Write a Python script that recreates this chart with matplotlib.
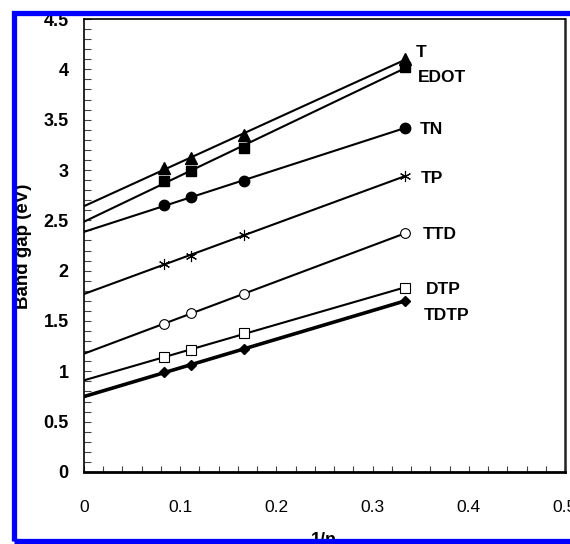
import numpy as np
import matplotlib
matplotlib.use("Agg")
import matplotlib.pyplot as plt
from matplotlib.ticker import MultipleLocator
from matplotlib.patches import Rectangle

plt.rcParams['font.family'] = ['Liberation Sans', 'DejaVu Sans']

# 1/n for n = 12, 9, 6, 3
inv_n = [1 / 12, 1 / 9, 1 / 6, 1 / 3]

# band gaps (eV)
gap_T = [3.02, 3.12, 3.35, 4.10]
gap_EDOT = [2.89, 2.99, 3.22, 4.02]
gap_TN = [2.65, 2.73, 2.89, 3.42]
gap_TP = [2.07, 2.15, 2.35, 2.94]
gap_TTD = [1.47, 1.58, 1.77, 2.37]
gap_DTP = [1.14, 1.21, 1.385, 1.83]
gap_TDTP = [0.99, 1.065, 1.22, 1.70]

names = ['T', 'EDOT', 'TN', 'TP', 'TTD', 'DTP', 'TDTP']
series = [gap_T, gap_EDOT, gap_TN, gap_TP, gap_TTD, gap_DTP, gap_TDTP]

# label positions (data coords)
label_x = [0.345, 0.347, 0.349, 0.350, 0.352, 0.355, 0.353]
label_y = [4.17, 3.92, 3.40, 2.92, 2.36, 1.81, 1.55]

# marker style per series
styles = {
    'T': dict(marker='^', ms=8, mfc='black'),
    'EDOT': dict(marker='s', ms=7, mfc='black'),
    'TN': dict(marker='o', ms=7.5, mfc='black'),
    'TP': dict(marker=(6, 2, 0), ms=8, mfc='black', mew=0.8),
    'TTD': dict(marker='o', ms=7, mfc='white', mew=0.8),
    'DTP': dict(marker='s', ms=6.5, mfc='white', mew=0.8),
    'TDTP': dict(marker='D', ms=5, mfc='black'),
}

fig = plt.figure(figsize=(5.70, 5.44), dpi=100)
ax = fig.add_axes([0.1474, 0.1324, 0.8438, 0.8326])

xfit = np.array([0.0, 1 / 3])
for name, vals in zip(names, series):
    slope, icpt = np.polyfit(inv_n, vals, 1)
    lw = 2.6 if name == 'TDTP' else 1.5
    ax.plot(xfit, slope * xfit + icpt, color='black', lw=lw, zorder=2)
    ax.plot(inv_n, vals, linestyle='none', color='black', mec='black',
            zorder=3, **styles[name])

for name, lx, ly in zip(names, label_x, label_y):
    ax.text(lx, ly, name, fontsize=12.5, fontweight='bold', va='center', ha='left')

ax.set_xlim(0, 0.5)
ax.set_ylim(0, 4.5)
ax.xaxis.set_minor_locator(MultipleLocator(0.02))
ax.yaxis.set_minor_locator(MultipleLocator(0.1))
ax.set_xticks([0, 0.1, 0.2, 0.3, 0.4, 0.5])
ax.set_xticklabels(['0', '0.1', '0.2', '0.3', '0.4', '0.5'])
ax.set_yticks([0, 0.5, 1, 1.5, 2, 2.5, 3, 3.5, 4, 4.5])
ax.set_yticklabels(['0', '0.5', '1', '1.5', '2', '2.5', '3', '3.5', '4', '4.5'])

ax.tick_params(axis='both', which='both', direction='in', width=0.8, color='#444444')
ax.tick_params(axis='x', which='both', length=4, pad=20, labelsize=12.5)
ax.tick_params(axis='y', which='both', length=5, pad=11)
for lab in ax.get_yticklabels():
    lab.set_fontweight('bold')
    lab.set_fontsize(13)

for side in ['left', 'top']:
    ax.spines[side].set_linewidth(1.2)
ax.spines['bottom'].set_linewidth(2)
ax.spines['right'].set_linewidth(1.8)
ax.spines['right'].set_color('#222222')

fig.text(0.041, 0.548, 'Band gap (eV)', rotation=90, fontsize=13.5, fontweight='bold',
         ha='center', va='center')
fig.text(0.568, 0.022, '1/n', fontsize=13, fontweight='bold', ha='center', va='top')

# blue frame
fig.patches.append(Rectangle((0.0237, 0.0046), 1.2, 0.9724, transform=fig.transFigure,
                             fill=False, edgecolor='#0000ff', lw=3.8, zorder=10))

fig.savefig('out.png', dpi=100)
